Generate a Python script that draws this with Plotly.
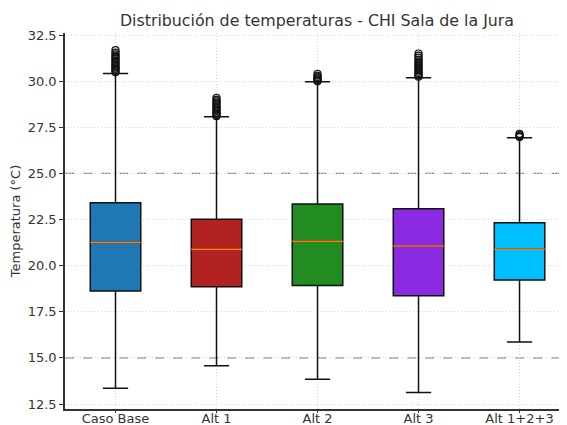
import plotly.graph_objects as go

categories = ["Caso Base", "Alt 1", "Alt 2", "Alt 3", "Alt 1+2+3"]
q1 = [18.62, 18.86, 18.93, 18.37, 19.22]
median = [21.26, 20.89, 21.32, 21.06, 20.89]
q3 = [23.41, 22.51, 23.34, 23.09, 22.33]
lower = [13.35, 14.58, 13.84, 13.13, 15.86]
upper = [30.42, 28.07, 29.97, 30.19, 26.93]
outliers = [
    [30.48, 30.55, 30.62, 30.68, 30.75, 30.82, 30.9, 30.97, 31.05, 31.12,
     31.2, 31.28, 31.36, 31.45, 31.55, 31.68],
    [28.1, 28.16, 28.23, 28.3, 28.38, 28.45, 28.53, 28.6, 28.68, 28.76,
     28.84, 28.92, 29.0, 29.1],
    [29.99, 30.04, 30.1, 30.16, 30.22, 30.3, 30.4],
    [30.24, 30.3, 30.37, 30.44, 30.52, 30.6, 30.68, 30.76, 30.84, 30.92,
     31.0, 31.08, 31.17, 31.27, 31.38, 31.5],
    [26.97, 27.02, 27.08, 27.15],
]
colors = ["#1f77b4", "#b22222", "#228b22", "#8a2be2", "#00bfff"]
yticks = [12.5, 15.0, 17.5, 20.0, 22.5, 25.0, 27.5, 30.0, 32.5]
ref_lines = [15.0, 25.0]

pos = list(range(1, len(categories) + 1))
fig = go.Figure()
for i, p in enumerate(pos):
    fig.add_trace(go.Box(
        x=[p], q1=[q1[i]], median=[median[i]], q3=[q3[i]],
        lowerfence=[lower[i]], upperfence=[upper[i]],
        fillcolor=colors[i], line=dict(color="#111111", width=1.5),
        width=0.5, whiskerwidth=0.5, boxpoints=False, showlegend=False,
        hoverinfo="skip",
    ))
for i, p in enumerate(pos):
    fig.add_trace(go.Scatter(
        x=[p - 0.25, p + 0.25], y=[median[i], median[i]], mode="lines",
        line=dict(color="#ff7f0e", width=1.5), showlegend=False, hoverinfo="skip",
    ))
    fig.add_trace(go.Scatter(
        x=[p] * len(outliers[i]), y=outliers[i], mode="markers",
        marker=dict(symbol="circle-open", size=7, color="#111111", line=dict(width=1.2)),
        showlegend=False, hoverinfo="skip",
    ))

for v in ref_lines:
    fig.add_shape(type="line", xref="paper", x0=0, x1=1, yref="y", y0=v, y1=v,
                  line=dict(color="#8a8a8a", width=1.2, dash="dash"), layer="below")

# the page body adds an 8px offset; the figure is sized to fill the rest
W, H, OFF = 559, 417, 8
font = "DejaVu Sans"
grid = dict(showgrid=True, gridcolor="#d9d9d9", griddash="1px,2px", gridwidth=1)
fig.update_layout(
    width=W, height=H,
    margin=dict(l=65 - OFF, r=0, t=33 - OFF, b=H - (409 - OFF)),
    paper_bgcolor="white", plot_bgcolor="white",
    boxmode="overlay",
    font=dict(family=font, size=13, color="#333333"),
    title=dict(text="Distribución de temperaturas - CHI Sala de la Jura",
               x=(317 - OFF) / W, xref="container", xanchor="center",
               y=1 - (20 - OFF) / H, yref="container", yanchor="middle",
               font=dict(family=font, size=15.8, color="#333333")),
    xaxis=dict(range=[0.5, 5.47], tickvals=pos, ticktext=categories,
               showline=True, linecolor="#333333", linewidth=1.5,
               ticks="outside", ticklen=2, tickcolor="#333333",
               ticklabelstandoff=-5,
               zeroline=False, automargin=False,
               tickfont=dict(family=font, size=13, color="#333333"), **grid),
    yaxis=dict(range=[12.23, 32.61], tickvals=yticks,
               ticktext=[f"{v:.1f}" for v in yticks],
               showline=True, linecolor="#333333", linewidth=1.5,
               ticks="outside", ticklen=4, tickcolor="#333333",
               zeroline=False, automargin=False,
               title=dict(text="Temperatura (°C)", standoff=5,
                          font=dict(family=font, size=13, color="#333333")),
               tickfont=dict(family=font, size=13, color="#333333"), **grid),
)
fig.write_html("out.html")
